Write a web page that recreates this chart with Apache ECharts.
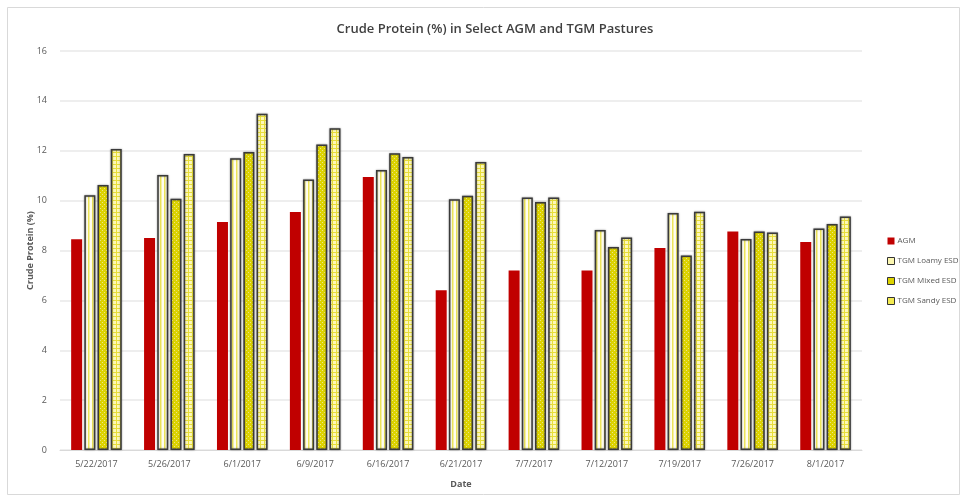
<!DOCTYPE html>
<html>
<head>
<meta charset="utf-8">
<script src="https://cdn.jsdelivr.net/npm/echarts@6/dist/echarts.min.js"></script>
<style>
html, body { margin: 0; padding: 0; background: #fff; }
#main { width: 963px; height: 498px; }
</style>
</head>
<body>
<div id="main"></div>
<script>
var dates = ['5/22/2017', '5/26/2017', '6/1/2017', '6/9/2017', '6/16/2017', '6/21/2017',
    '7/7/2017', '7/12/2017', '7/19/2017', '7/26/2017', '8/1/2017'];
var agm = [8.45, 8.5, 9.14, 9.54, 10.95, 6.41, 7.2, 7.2, 8.1, 8.76, 8.34];
var loamy = [10.22, 11.03, 11.7, 10.85, 11.23, 10.06, 10.13, 8.82, 9.5, 8.46, 8.88];
var mixed = [10.63, 10.08, 11.95, 12.25, 11.9, 10.2, 9.94, 8.14, 7.8, 8.76, 9.06];
var sandy = [12.07, 11.87, 13.48, 12.9, 11.75, 11.55, 10.13, 8.52, 9.55, 8.72, 9.36];
var yTicks = [0, 2, 4, 6, 8, 10, 12, 14, 16];

// little canvases used as fill patterns
function makePattern(w, h, draw) {
    var c = document.createElement('canvas');
    c.width = w; c.height = h;
    draw(c.getContext('2d'));
    return c;
}
var loamyFill = makePattern(4, 4, function (g) {
    g.fillStyle = '#fffdf0'; g.fillRect(0, 0, 4, 4);
    g.fillStyle = '#ece45a'; g.fillRect(0, 0, 1.5, 4);
});
var mixedFill = makePattern(4, 4, function (g) {
    g.fillStyle = '#ddd300'; g.fillRect(0, 0, 4, 4);
    g.fillStyle = '#ece688'; g.fillRect(0, 0, 1, 1); g.fillRect(2, 2, 1, 1);
});
var sandyFill = makePattern(4, 4, function (g) {
    g.fillStyle = '#fdf8b8'; g.fillRect(0, 0, 4, 4);
    g.fillStyle = '#e8de3a'; g.fillRect(0, 0, 4, 1); g.fillRect(0, 0, 1, 4);
});

var chart = echarts.init(document.getElementById('main'));

var barBorder = {
    borderColor: '#3a3a3a',
    borderWidth: 1.5,
    shadowColor: 'rgba(0,0,0,0.35)',
    shadowBlur: 2
};

function hatched(name, fill, values) {
    return {
        name: name,
        type: 'bar',
        barWidth: 11,
        barGap: '20%',
        itemStyle: Object.assign({ color: { image: fill, repeat: 'repeat' } }, barBorder),
        data: values
    };
}

var option = {
    animation: false,
    backgroundColor: '#fff',
    title: {
        text: 'Crude Protein (%) in Select AGM and TGM Pastures',
        left: 490,
        top: 18,
        textAlign: 'center',
        textStyle: { fontFamily: 'Open Sans', fontSize: 13, fontWeight: 600, color: '#404040' }
    },
    graphic: [{
        type: 'rect',
        z: -1,
        shape: { x: 7.5, y: 7.5, width: 952, height: 487 },
        style: { fill: 'none', stroke: '#d9d9d9', lineWidth: 1 }
    }],
    legend: {
        orient: 'vertical',
        left: 882,
        top: 232,
        itemWidth: 7,
        itemHeight: 7,
        itemGap: 12,
        icon: 'rect',
        textStyle: { fontFamily: 'Open Sans', fontSize: 8, color: '#595959', padding: [0, 0, 0, -2] },
        data: [
            { name: 'AGM', itemStyle: { color: '#c00000' } },
            { name: 'TGM Loamy ESD', itemStyle: { color: '#fbf6b0', borderColor: '#333', borderWidth: 1 } },
            { name: 'TGM Mixed ESD', itemStyle: { color: '#ddd300', borderColor: '#333', borderWidth: 1 } },
            { name: 'TGM Sandy ESD', itemStyle: { color: '#f3ea50', borderColor: '#333', borderWidth: 1 } }
        ]
    },
    grid: { left: 60, right: 101, top: 51, bottom: 48 },
    xAxis: {
        type: 'category',
        data: dates,
        name: 'Date',
        nameLocation: 'middle',
        nameGap: 30,
        nameTextStyle: { fontFamily: 'Open Sans', fontSize: 9, fontWeight: 'bold', color: '#595959' },
        axisLine: { lineStyle: { color: '#d9d9d9' } },
        axisTick: { show: false },
        axisLabel: { fontFamily: 'Open Sans', fontSize: 9, color: '#595959', margin: 10 }
    },
    yAxis: {
        type: 'value',
        min: yTicks[0],
        max: yTicks[yTicks.length - 1],
        interval: 2,
        name: 'Crude Protein (%)',
        nameLocation: 'middle',
        nameGap: 25,
        nameMoveOverlap: false,
        nameTextStyle: { fontFamily: 'Open Sans', fontSize: 9, fontWeight: 'bold', color: '#595959' },
        axisLine: { show: false },
        axisTick: { show: false },
        axisLabel: { fontFamily: 'Open Sans', fontSize: 9, color: '#595959', margin: 13 },
        splitLine: { lineStyle: { color: '#e9e9e9', width: 1.5 } }
    },
    series: [
        {
            name: 'AGM',
            type: 'bar',
            barWidth: 11,
            barGap: '20%',
            itemStyle: { color: '#c00000' },
            data: agm
        },
        hatched('TGM Loamy ESD', loamyFill, loamy),
        hatched('TGM Mixed ESD', mixedFill, mixed),
        hatched('TGM Sandy ESD', sandyFill, sandy)
    ]
};

chart.setOption(option);
</script>
</body>
</html>
